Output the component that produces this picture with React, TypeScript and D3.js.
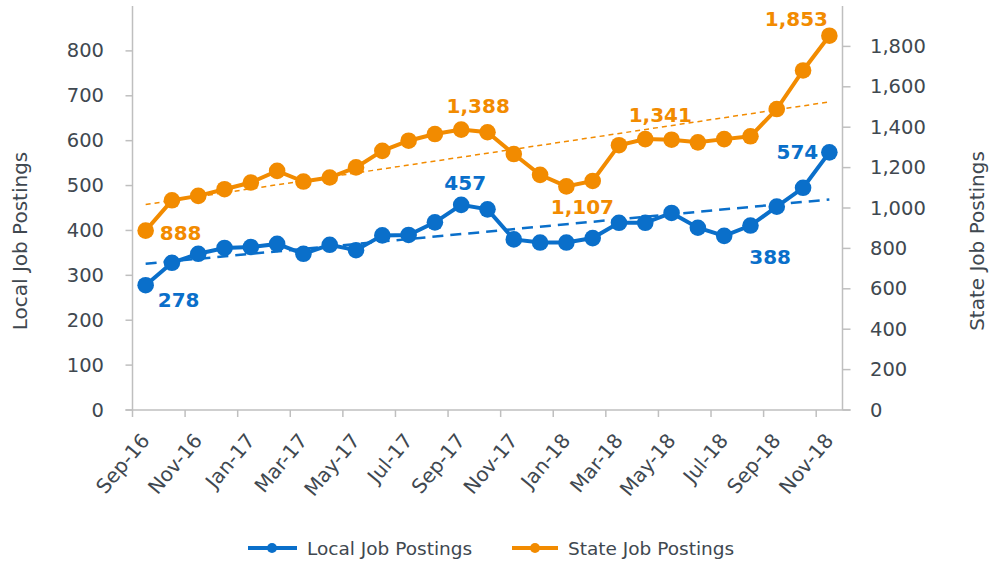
import React from "react";
import * as d3 from "d3";

const months = [
  "Sep-16", "Oct-16", "Nov-16", "Dec-16", "Jan-17", "Feb-17", "Mar-17", "Apr-17", "May-17",
  "Jun-17", "Jul-17", "Aug-17", "Sep-17", "Oct-17", "Nov-17", "Dec-17", "Jan-18", "Feb-18",
  "Mar-18", "Apr-18", "May-18", "Jun-18", "Jul-18", "Aug-18", "Sep-18", "Oct-18", "Nov-18",
];
const localPostings = [278, 328, 348, 361, 363, 370, 348, 368, 356, 389, 390, 418, 457, 447, 380, 373, 373, 383, 417, 417, 439, 406, 388, 411, 453, 495, 574];
const statePostings = [888, 1038, 1060, 1093, 1126, 1184, 1131, 1151, 1201, 1283, 1333, 1366, 1388, 1375, 1267, 1164, 1107, 1134, 1311, 1341, 1338, 1325, 1341, 1355, 1490, 1681, 1853];
const leftTicks = [0, 100, 200, 300, 400, 500, 600, 700, 800];
const rightTicks = [0, 200, 400, 600, 800, 1000, 1200, 1400, 1600, 1800];
const localLabelIdx = [0, 12, 22, 26];
const stateLabelIdx = [0, 12, 16, 19, 26];

// label offsets (styling only)
const localOffsets: Record<number, [number, number]> = { 0: [33, 15], 12: [4, -22], 22: [46, 21], 26: [-32, 0] };
const stateOffsets: Record<number, [number, number]> = { 0: [35, 2], 12: [17, -24], 16: [16, 21], 19: [15, -24], 26: [-33, -17] };

const BLUE = "#0a6fca";
const ORANGE = "#f28b00";
const TEXT = "#404850";
const AXIS = "#bfbfbf";
const FONT = "'DejaVu Sans', Verdana, sans-serif";

function regression(vals: number[]) {
  const n = vals.length;
  const xs = vals.map((_, i) => i);
  const mx = d3.mean(xs)!;
  const my = d3.mean(vals)!;
  let num = 0, den = 0;
  for (let i = 0; i < n; i++) {
    num += (xs[i] - mx) * (vals[i] - my);
    den += (xs[i] - mx) ** 2;
  }
  const b = num / den;
  const a = my - b * mx;
  return (i: number) => a + b * i;
}

export default function App() {
  const W = 993, H = 563;
  const left = 132.5, right = 842.5, top = 6, bottom = 410;
  const x = d3.scaleBand<string>().domain(months).range([left, right]);
  const bw = x.bandwidth();
  const cx = (i: number) => (x(months[i]) as number) + bw / 2;
  const yL = d3.scaleLinear().domain([0, 900]).range([bottom, top]);
  const yR = d3.scaleLinear().domain([0, 2000]).range([bottom, top]);
  const fmt = d3.format(",");

  const lineL = d3.line<number>().x((_, i) => cx(i)).y((d) => yL(d));
  const lineR = d3.line<number>().x((_, i) => cx(i)).y((d) => yR(d));
  const regL = regression(localPostings);
  const regR = regression(statePostings);
  const nLast = months.length - 1;

  return (
    <svg width={W} height={H} style={{ position: "absolute", left: 0, top: 0, background: "#fff" }} fontFamily={FONT}>
      {/* axes */}
      <line x1={left} x2={left} y1={top} y2={bottom} stroke={AXIS} strokeWidth={1.5} />
      <line x1={right} x2={right} y1={top} y2={bottom} stroke={AXIS} strokeWidth={1.5} />
      <line x1={left - 7} x2={right + 8} y1={bottom} y2={bottom} stroke={AXIS} strokeWidth={1.5} />
      {leftTicks.map((t) => (
        <g key={"l" + t}>
          <line x1={left - 7} x2={left} y1={yL(t)} y2={yL(t)} stroke={AXIS} strokeWidth={1.5} />
          <text x={104} y={yL(t)} textAnchor="end" dominantBaseline="central" fontSize={19.5} fill={TEXT}>{t}</text>
        </g>
      ))}
      {rightTicks.map((t) => (
        <g key={"r" + t}>
          <line x1={right} x2={right + 8} y1={yR(t)} y2={yR(t)} stroke={AXIS} strokeWidth={1.5} />
          <text x={870} y={yR(t)} textAnchor="start" dominantBaseline="central" fontSize={19.5} fill={TEXT}>{fmt(t)}</text>
        </g>
      ))}
      {months.map((m, i) =>
        i % 2 === 0 ? (
          <g key={m}>
            <line x1={x(m)} x2={x(m)} y1={bottom} y2={bottom + 7} stroke={AXIS} strokeWidth={1.5} />
            <text transform={`translate(${cx(i) + 5},${441}) rotate(-50)`} textAnchor="end" fontSize={20} fill={TEXT}>{m}</text>
          </g>
        ) : null
      )}
      <text transform={`translate(27,${(top + bottom) / 2 + 33}) rotate(-90)`} textAnchor="middle" fontSize={20} fill={TEXT}>Local Job Postings</text>
      <text transform={`translate(984,${(top + bottom) / 2 + 33}) rotate(-90)`} textAnchor="middle" fontSize={20} fill={TEXT}>State Job Postings</text>

      {/* trend lines */}
      <line x1={cx(0)} x2={cx(nLast)} y1={yR(regR(0))} y2={yR(regR(nLast))} stroke={ORANGE} strokeWidth={1.5} strokeDasharray="5 4" />
      <line x1={cx(0)} x2={cx(nLast)} y1={yL(regL(0))} y2={yL(regL(nLast))} stroke={BLUE} strokeWidth={2.5} strokeDasharray="11 7" />

      {/* series */}
      <path d={lineR(statePostings)!} fill="none" stroke={ORANGE} strokeWidth={4} />
      {statePostings.map((v, i) => <circle key={"s" + i} cx={cx(i)} cy={yR(v)} r={8.3} fill={ORANGE} />)}
      <path d={lineL(localPostings)!} fill="none" stroke={BLUE} strokeWidth={4} />
      {localPostings.map((v, i) => <circle key={"c" + i} cx={cx(i)} cy={yL(v)} r={8.3} fill={BLUE} />)}

      {/* data labels */}
      {stateLabelIdx.map((i) => (
        <text key={"sl" + i} x={cx(i) + stateOffsets[i][0]} y={yR(statePostings[i]) + stateOffsets[i][1]} textAnchor="middle" dominantBaseline="central" fontSize={20} fontWeight="bold" fill={ORANGE}>{fmt(statePostings[i])}</text>
      ))}
      {localLabelIdx.map((i) => (
        <text key={"ll" + i} x={cx(i) + localOffsets[i][0]} y={yL(localPostings[i]) + localOffsets[i][1]} textAnchor="middle" dominantBaseline="central" fontSize={20} fontWeight="bold" fill={BLUE}>{fmt(localPostings[i])}</text>
      ))}

      {/* legend */}
      <g>
        <line x1={248} x2={297} y1={548} y2={548} stroke={BLUE} strokeWidth={4} />
        <circle cx={272} cy={548} r={5} fill={BLUE} />
        <text x={307} y={548} dominantBaseline="central" fontSize={18.5} fill={TEXT}>Local Job Postings</text>
        <line x1={512} x2={558} y1={548} y2={548} stroke={ORANGE} strokeWidth={4} />
        <circle cx={535} cy={548} r={5} fill={ORANGE} />
        <text x={568} y={548} dominantBaseline="central" fontSize={18.5} fill={TEXT}>State Job Postings</text>
      </g>
    </svg>
  );
}
